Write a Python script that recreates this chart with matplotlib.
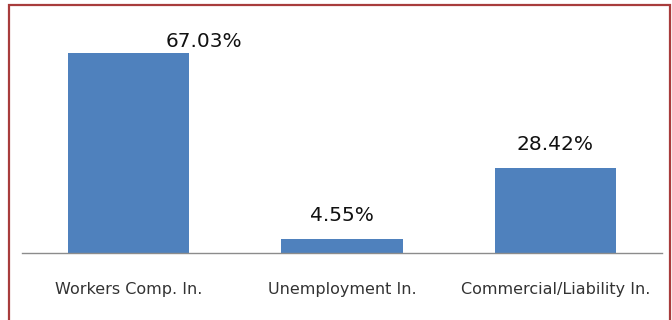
import matplotlib
matplotlib.use("Agg")
import matplotlib.pyplot as plt
from matplotlib.patches import Rectangle

categories = ["Workers Comp. In.", "Unemployment In.", "Commercial/Liability In."]
shares = [67.03, 4.55, 28.42]
value_labels = ["67.03%", "4.55%", "28.42%"]

BAR_COLOR = "#4F81BD"
TEXT_COLOR = "#111111"

fig = plt.figure(figsize=(6.72, 3.2), dpi=100)
fig.patch.set_facecolor("white")

ax = fig.add_axes([22 / 672, 67 / 320, 640 / 672, 233 / 320])
x = list(range(len(categories)))
ax.bar(x, shares, width=0.57, color=BAR_COLOR, zorder=2)
ax.set_xlim(-0.5, len(categories) - 0.5)
ax.set_ylim(0, 78)

# value labels; the first one sits to the right of its bar, near the top
label_shift = [(75, 6), (0, 18), (0, 18)]
for xi, val, txt, (dx, dy) in zip(x, shares, value_labels, label_shift):
    ax.annotate(txt, xy=(xi, val), xytext=(dx * 0.72, dy * 0.72),
                textcoords="offset points", ha="center", va="baseline",
                fontsize=14.5, color=TEXT_COLOR, family="DejaVu Sans")

ax.set_xticks(x)
ax.set_xticklabels(categories, fontsize=11.5, color="#333333", family="DejaVu Sans")
ax.tick_params(axis="x", length=0, pad=21)
ax.set_yticks([])
for side in ("top", "right", "left"):
    ax.spines[side].set_visible(False)
ax.spines["bottom"].set_color("#8c8c8c")
ax.spines["bottom"].set_linewidth(1.0)

# outer frame around the chart
frame = Rectangle((9 / 672, -0.02), (670 - 9) / 672, 1.02 - 5.5 / 320,
                  transform=fig.transFigure, fill=False,
                  edgecolor="#A83C3C", linewidth=1.6)
fig.patches.append(frame)

fig.savefig("out.png", dpi=100, facecolor="white")
